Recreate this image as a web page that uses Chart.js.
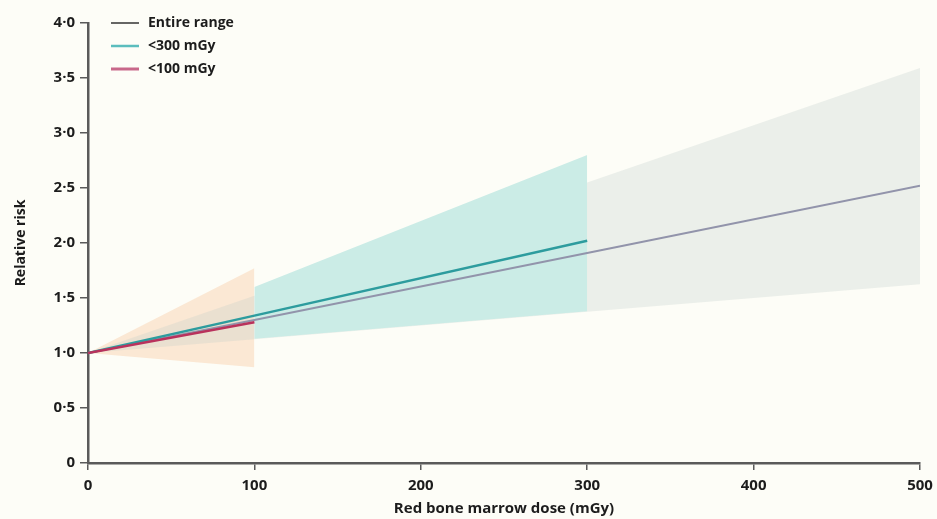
<!DOCTYPE html>
<html>
<head>
<meta charset="utf-8">
<script src="https://cdn.jsdelivr.net/npm/chart.js@4.4.1/dist/chart.umd.min.js"></script>
<style>
    html, body { margin: 0; padding: 0; background: #fdfdf7; }
    #wrap { width: 937px; height: 519px; }
</style>
</head>
<body>
<div id="wrap"><canvas id="riskChart" width="937" height="519"></canvas></div>
<script>
// Dose points (mGy) for each fit
const dosesAll = [0, 100, 300, 500];
const doses300 = [0, 100, 300];
const doses300Band = [100, 300];
const doses100 = [0, 100];

// Entire range fit with its confidence band
const entireRR = [1, 1.30, 1.91, 2.52];
const entireLow = [1, 1.125, 1.375, 1.625];
const entireHigh = [1, 1.52, 2.55, 3.59];

// <300 mGy fit
const below300RR = [1, 1.34, 2.02];
const below300Low = [1.13, 1.38];
const below300High = [1.60, 2.80];

// <100 mGy fit
const below100RR = [1, 1.28];
const below100Low = [1, 0.87];
const below100High = [1, 1.77];

const xTicks = [0, 100, 200, 300, 400, 500];
const yTicks = [0, 0.5, 1, 1.5, 2, 2.5, 3, 3.5, 4];

const FONT = "'Open Sans', 'DejaVu Sans', sans-serif";
const TEXT = '#1c1c1c';

function pts(xs, ys) {
    return xs.map((x, i) => ({ x: x, y: ys[i] }));
}

function fmt(v) {
    return v === 0 ? '0' : v.toFixed(1).replace('.', '\u00b7');
}

// Band edges are hidden lines, the upper edge fills down to the lower one
const datasets = [
    // 0..2: lines (drawn on top)
    { label: '<100 mGy', data: pts(doses100, below100RR), borderColor: '#b9325c', borderWidth: 2.5, order: 0, legendColor: '#c8688a', legendWidth: 3 },
    { label: '<300 mGy', data: pts(doses300, below300RR), borderColor: '#2d9c9e', borderWidth: 2.5, order: 1, legendColor: '#5bbdbd', legendWidth: 2.5 },
    { label: 'Entire range', data: pts(dosesAll, entireRR), borderColor: '#9294ab', borderWidth: 2, order: 2, legendColor: '#333333', legendWidth: 1.5 },
    // 3,4: <300 band
    { label: 'b300low', data: pts(doses300Band, below300Low), borderWidth: 0, fill: false, order: 3 },
    { label: 'b300high', data: pts(doses300Band, below300High), borderWidth: 0, fill: 3, backgroundColor: '#cbece6', order: 4 },
    // 5,6: entire band
    { label: 'allLow', data: pts(dosesAll, entireLow), borderWidth: 0, fill: false, order: 5 },
    { label: 'allHigh', data: pts(dosesAll, entireHigh), borderWidth: 0, fill: 5, backgroundColor: 'rgba(190,204,200,0.27)', order: 6 },
    // 7,8: <100 band
    { label: 'b100low', data: pts(doses100, below100Low), borderWidth: 0, fill: false, order: 7 },
    { label: 'b100high', data: pts(doses100, below100High), borderWidth: 0, fill: 7, backgroundColor: '#fbe8d4', order: 8 }
];

datasets.forEach(d => {
    d.pointRadius = 0;
    d.tension = 0;
    if (d.borderWidth === 0) d.borderColor = 'rgba(0,0,0,0)';
});

// Legend drawn in the top-left corner of the plot
const cornerLegend = {
    id: 'cornerLegend',
    afterDraw(chart) {
        const ctx = chart.ctx;
        const area = chart.chartArea;
        const items = [datasets[2], datasets[1], datasets[0]];
        ctx.save();
        ctx.font = '700 14px ' + FONT;
        ctx.textBaseline = 'middle';
        items.forEach((d, i) => {
            const y = area.top + i * 23;
            ctx.strokeStyle = d.legendColor;
            ctx.lineWidth = d.legendWidth;
            ctx.beginPath();
            ctx.moveTo(area.left + 23, y);
            ctx.lineTo(area.left + 51, y);
            ctx.stroke();
            ctx.fillStyle = TEXT;
            ctx.fillText(d.label, area.left + 60, y);
        });
        ctx.restore();
    }
};

new Chart(document.getElementById('riskChart'), {
    type: 'line',
    data: { datasets: datasets },
    options: {
        responsive: false,
        animation: false,
        layout: { padding: { top: 23, right: 17, left: 0, bottom: 0 } },
        plugins: {
            legend: { display: false },
            tooltip: { enabled: false }
        },
        scales: {
            x: {
                type: 'linear',
                min: 0,
                max: 500,
                afterFit: s => { s.height = 56; s.paddingLeft = 0; s.paddingRight = 0; },
                afterBuildTicks: s => { s.ticks = xTicks.map(v => ({ value: v })); },
                border: { color: '#5a5a5a', width: 2.5 },
                grid: { drawOnChartArea: false, color: '#5a5a5a', tickLength: 7, lineWidth: 1.5 },
                ticks: { color: TEXT, font: { family: FONT, size: 15, weight: '700' }, padding: 7, maxRotation: 0 },
                title: { display: true, text: 'Red bone marrow dose (mGy)', color: TEXT, font: { family: FONT, size: 15, weight: '700' }, padding: { top: 0, bottom: 1 } }
            },
            y: {
                min: 0,
                max: 4,
                afterFit: s => { s.width = 88; },
                afterBuildTicks: s => { s.ticks = yTicks.map(v => ({ value: v })); },
                border: { color: '#5a5a5a', width: 2.5 },
                grid: { drawOnChartArea: false, color: '#5a5a5a', tickLength: 8, lineWidth: 1.5 },
                ticks: { color: TEXT, font: { family: FONT, size: 15, weight: '700' }, padding: 5, callback: v => fmt(v) },
                title: { display: true, text: 'Relative risk', color: TEXT, font: { family: FONT, size: 14, weight: '700' }, padding: { top: 13, bottom: 0 } }
            }
        }
    },
    plugins: [cornerLegend]
});
</script>
</body>
</html>
